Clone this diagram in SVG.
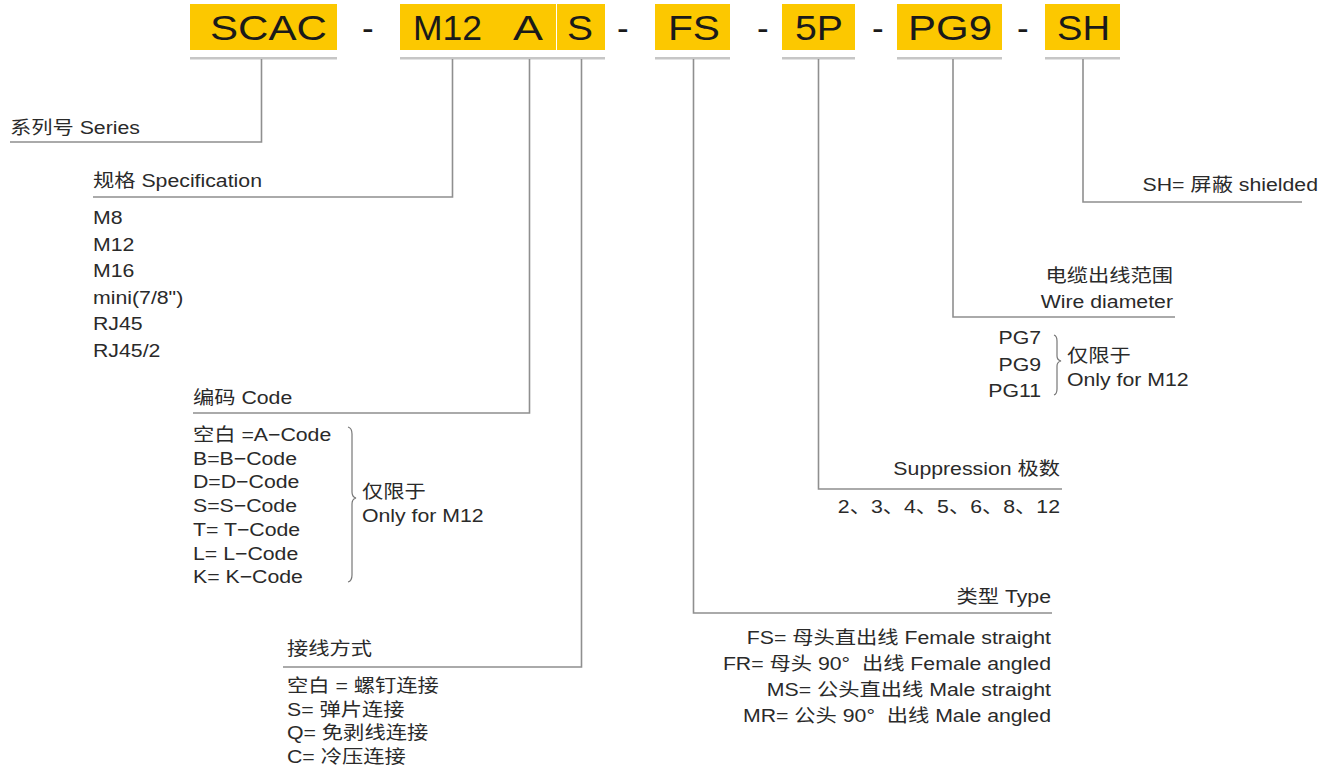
<svg xmlns="http://www.w3.org/2000/svg" width="1332" height="768" viewBox="0 0 1332 768">
<style>
.box{fill:#FCC800}
.bar{fill:#c6c6c6}
.hd{font-family:"Liberation Sans","Noto Sans CJK SC",sans-serif;font-size:35px;fill:#1a1a1a}
.dash{font-family:"Liberation Sans",sans-serif;font-size:35px;fill:#1a1a1a}
.t{font-family:"Liberation Sans","Noto Sans CJK SC",sans-serif;font-size:18.5px;fill:#2a2a2a;white-space:pre}
.e{text-anchor:end}
.ln{fill:none;stroke:#8f8f8f;stroke-width:1.6}
.br{fill:none;stroke:#777;stroke-width:1.2}
</style>
<rect width="1332" height="768" fill="#fff"/>
<g id="header">
<g id="n-scac"><rect class="box" x="190" y="4" width="147" height="46"/><rect class="bar" x="190" y="57" width="147" height="2.5"/><text class="hd" x="210" y="40" textLength="117" lengthAdjust="spacingAndGlyphs">SCAC</text></g>
<text class="dash" x="362" y="40">-</text>
<g id="n-m12as"><rect class="box" x="400" y="4" width="156" height="46"/><rect class="box" x="557" y="4" width="48" height="46"/><rect class="bar" x="400" y="57" width="205" height="2.5"/><text class="hd" y="40"><tspan x="413" textLength="69" lengthAdjust="spacingAndGlyphs">M12</tspan> <tspan x="513" textLength="30" lengthAdjust="spacingAndGlyphs">A</tspan></text><text class="hd" x="567" y="40" textLength="26" lengthAdjust="spacingAndGlyphs">S</text></g>
<text class="dash" x="617" y="40">-</text>
<g id="n-fs"><rect class="box" x="655" y="4" width="75" height="46"/><rect class="bar" x="655" y="57" width="75" height="2.5"/><text class="hd" x="668" y="40" textLength="52" lengthAdjust="spacingAndGlyphs">FS</text></g>
<text class="dash" x="757" y="40">-</text>
<g id="n-5p"><rect class="box" x="782" y="4" width="73" height="46"/><rect class="bar" x="782" y="57" width="73" height="2.5"/><text class="hd" x="795" y="40" textLength="48" lengthAdjust="spacingAndGlyphs">5P</text></g>
<text class="dash" x="872" y="40">-</text>
<g id="n-pg9"><rect class="box" x="897" y="4" width="105" height="46"/><rect class="bar" x="897" y="57" width="105" height="2.5"/><text class="hd" x="908" y="40" textLength="84" lengthAdjust="spacingAndGlyphs">PG9</text></g>
<text class="dash" x="1017" y="40">-</text>
<g id="n-sh"><rect class="box" x="1045" y="4" width="75" height="46"/><rect class="bar" x="1045" y="57" width="75" height="2.5"/><text class="hd" x="1057" y="40" textLength="53" lengthAdjust="spacingAndGlyphs">SH</text></g>
</g>
<g id="connectors">
<path class="ln" d="M261.5,59 V142 H10"/>
<path class="ln" d="M452.5,59 V197 H93"/>
<path class="ln" d="M529.5,59 V413 H193"/>
<path class="ln" d="M581.5,59 V667 H283"/>
<path class="ln" d="M693.5,59 V613 H1052"/>
<path class="ln" d="M818.5,59 V489 H1062"/>
<path class="ln" d="M953,59 V317 H1175"/>
<path class="ln" d="M1083,59 V202 H1302"/>
</g>
<g id="series"><text class="t" transform="translate(10 134) scale(1.15 1)">系列号 Series</text></g>
<g id="spec">
<text class="t" transform="translate(93 187) scale(1.15 1)">规格 Specification</text>
<text class="t" transform="translate(93 224) scale(1.15 1)">M8</text>
<text class="t" transform="translate(93 250.5) scale(1.15 1)">M12</text>
<text class="t" transform="translate(93 277) scale(1.15 1)">M16</text>
<text class="t" transform="translate(93 303.5) scale(1.15 1)">mini(7/8")</text>
<text class="t" transform="translate(93 330) scale(1.15 1)">RJ45</text>
<text class="t" transform="translate(93 356.5) scale(1.15 1)">RJ45/2</text>
</g>
<g id="code">
<text class="t" transform="translate(193 404) scale(1.15 1)">编码 Code</text>
<text class="t" transform="translate(193 441) scale(1.15 1)">空白 =A−Code</text>
<text class="t" transform="translate(193 464.7) scale(1.15 1)">B=B−Code</text>
<text class="t" transform="translate(193 488.4) scale(1.15 1)">D=D−Code</text>
<text class="t" transform="translate(193 512.1) scale(1.15 1)">S=S−Code</text>
<text class="t" transform="translate(193 535.8) scale(1.15 1)">T= T−Code</text>
<text class="t" transform="translate(193 559.5) scale(1.15 1)">L= L−Code</text>
<text class="t" transform="translate(193 583.2) scale(1.15 1)">K= K−Code</text>
<path class="br" d="M348,427 Q352,428 352,434 L352,492 Q352,497 356,498 Q352,499 352,504 L352,575 Q352,581 348,582"/>
<text class="t" transform="translate(362 498) scale(1.15 1)">仅限于</text>
<text class="t" transform="translate(362 522) scale(1.15 1)">Only for M12</text>
</g>
<g id="wiring">
<text class="t" transform="translate(287 655) scale(1.15 1)">接线方式</text>
<text class="t" transform="translate(287 692) scale(1.15 1)">空白 = 螺钉连接</text>
<text class="t" transform="translate(287 715.5) scale(1.15 1)">S= 弹片连接</text>
<text class="t" transform="translate(287 739) scale(1.15 1)">Q= 免剥线连接</text>
<text class="t" transform="translate(287 762.5) scale(1.15 1)">C= 冷压连接</text>
</g>
<g id="shield">
<text class="t e" transform="translate(1318 191) scale(1.15 1)">SH= 屏蔽 shielded</text>
</g>
<g id="wire">
<text class="t e" transform="translate(1173 282) scale(1.15 1)">电缆出线范围</text>
<text class="t e" transform="translate(1173 308) scale(1.15 1)">Wire diameter</text>
<text class="t e" transform="translate(1041 344) scale(1.15 1)">PG7</text>
<text class="t e" transform="translate(1041 370.5) scale(1.15 1)">PG9</text>
<text class="t e" transform="translate(1041 397) scale(1.15 1)">PG11</text>
<path class="br" d="M1054,335 Q1057,336 1057,341 L1057,356 Q1057,360 1061,361 Q1057,362 1057,366 L1057,389 Q1057,394 1054,395"/>
<text class="t" transform="translate(1067 362) scale(1.15 1)">仅限于</text>
<text class="t" transform="translate(1067 386) scale(1.15 1)">Only for M12</text>
</g>
<g id="poles">
<text class="t e" transform="translate(1060 475) scale(1.15 1)">Suppression 极数</text>
<text class="t e" transform="translate(1060 513) scale(1.15 1)">2、3、4、5、6、8、12</text>
</g>
<g id="type">
<text class="t e" transform="translate(1051 603) scale(1.15 1)">类型 Type</text>
<text class="t e" transform="translate(1051 644) scale(1.15 1)">FS= 母头直出线 Female straight</text>
<text class="t e" transform="translate(1051 670) scale(1.15 1)" xml:space="preserve">FR= 母头 90°  出线 Female angled</text>
<text class="t e" transform="translate(1051 696) scale(1.15 1)">MS= 公头直出线 Male straight</text>
<text class="t e" transform="translate(1051 722) scale(1.15 1)" xml:space="preserve">MR= 公头 90°  出线 Male angled</text>
</g>
</svg>
